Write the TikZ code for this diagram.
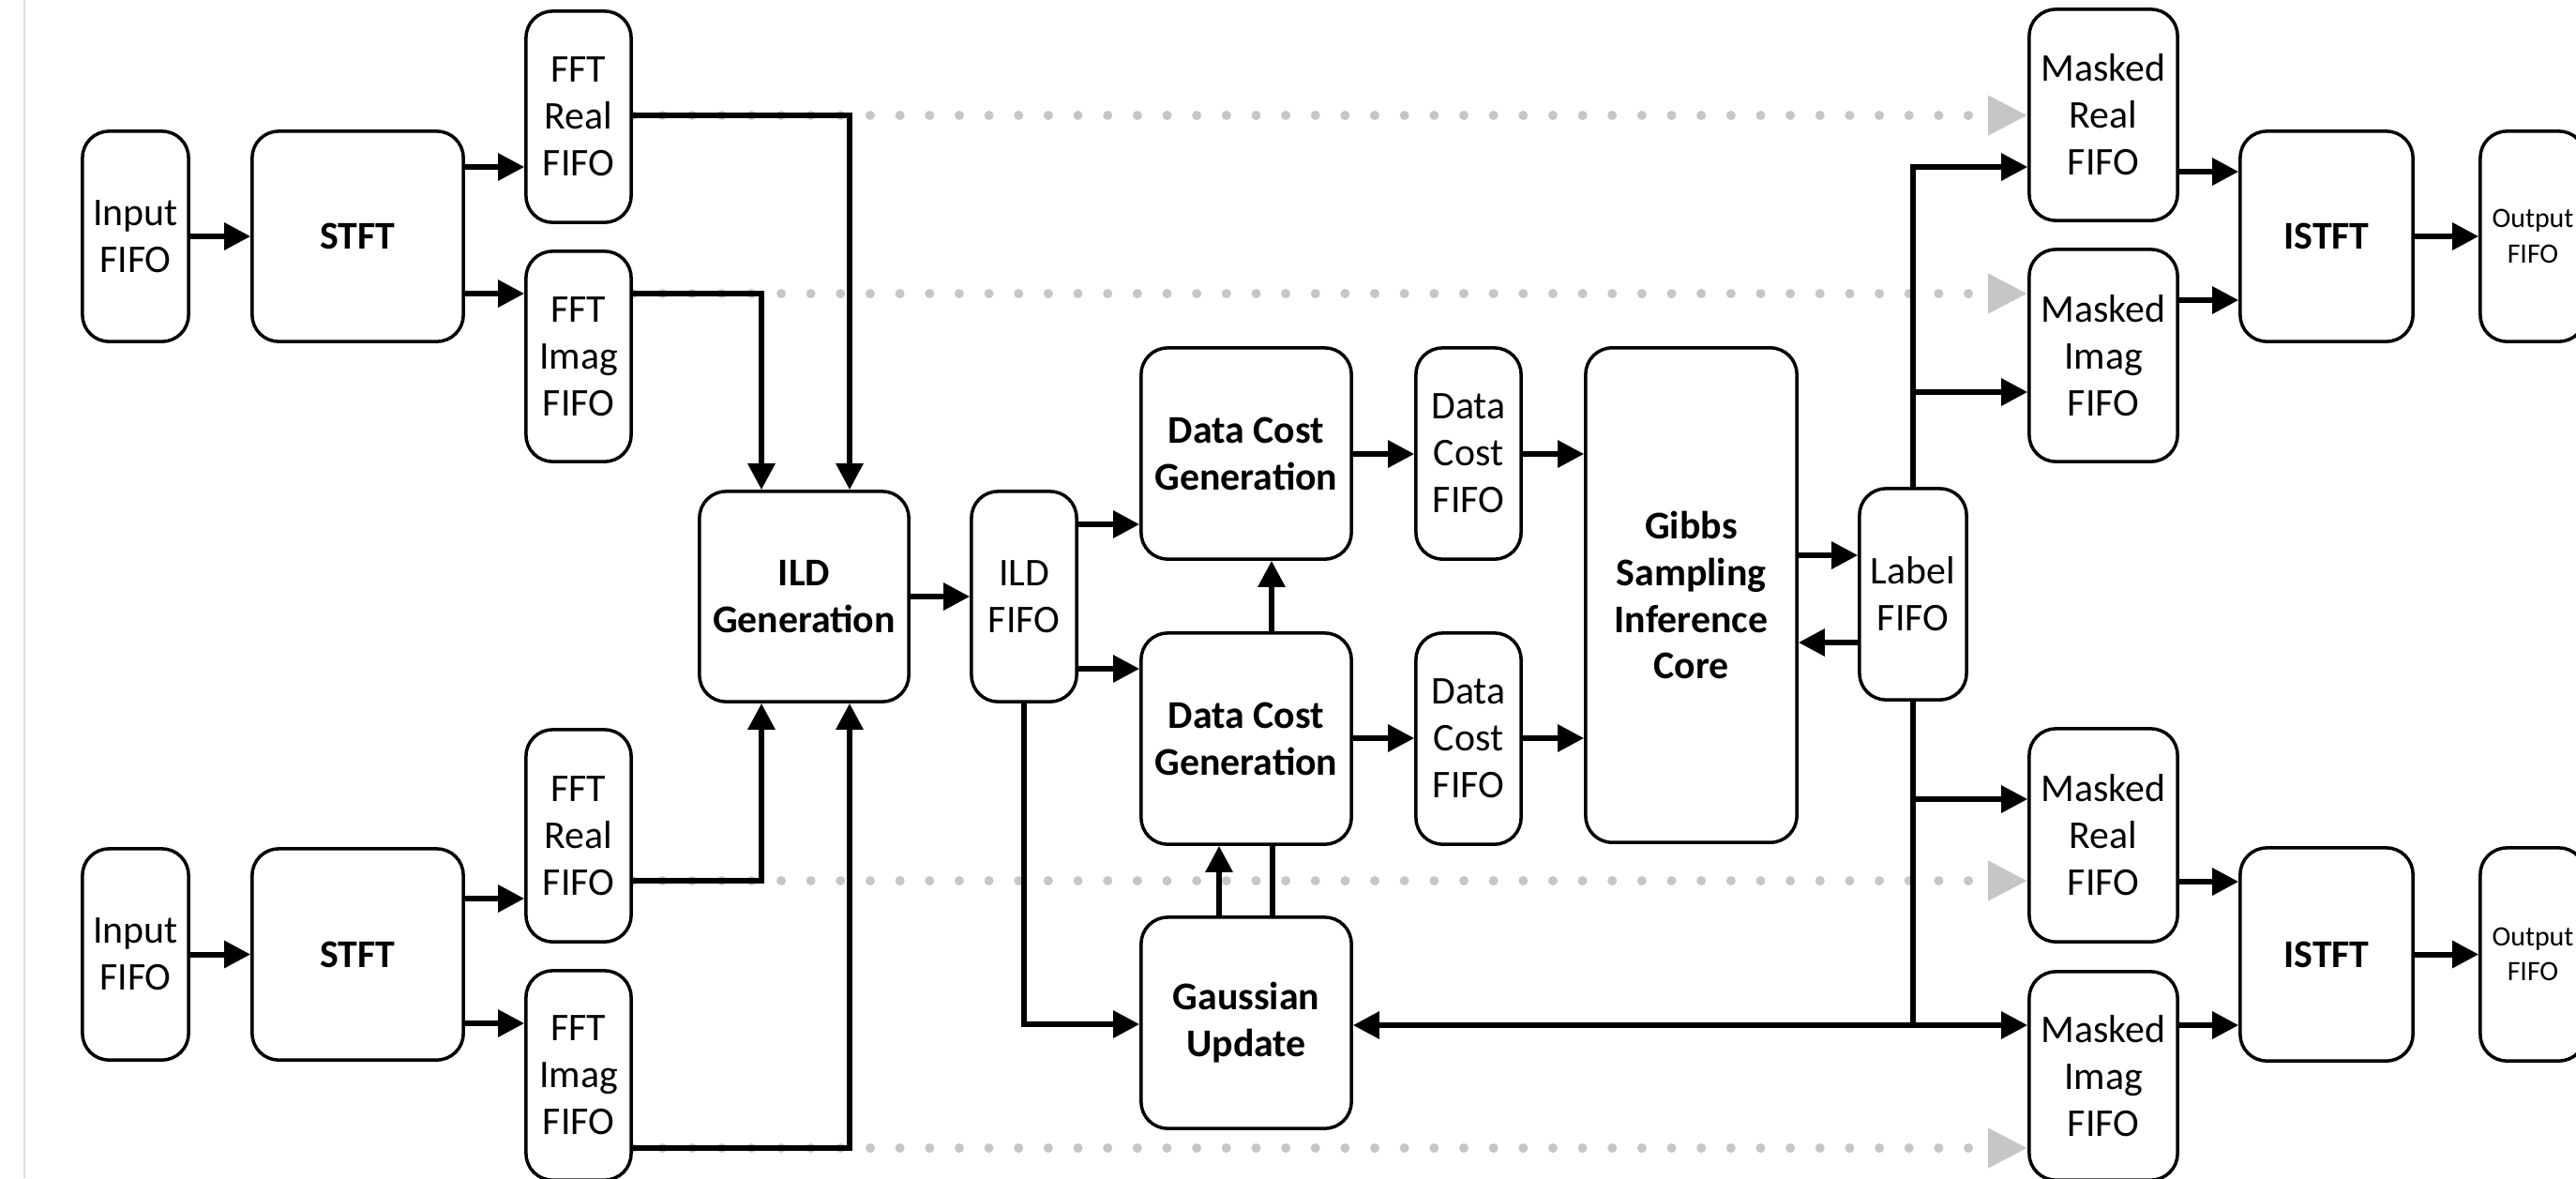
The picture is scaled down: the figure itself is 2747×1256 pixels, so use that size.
\documentclass[tikz,border=0pt]{standalone}
\usepackage{fontspec}
\setmainfont{Carlito}
\usetikzlibrary{arrows.meta}
\pgfdeclarelayer{background}
\pgfsetlayers{background,main}
\definecolor{dotgray}{RGB}{198,198,198}
\definecolor{edgegray}{RGB}{222,222,222}
\tikzset{
  x=0.01cm, y=-0.01cm,
  blk/.style={draw, fill=white, rounded corners=8pt, line width=1pt,
    inner sep=0pt, align=center, font=\fontsize{11.9}{14.2}\selectfont},
  bblk/.style={blk, font=\fontsize{11.9}{14.2}\selectfont\bfseries},
  sblk/.style={blk, font=\fontsize{8.5}{10.6}\selectfont},
  wire/.style={line width=1.7pt},
  conn/.style={wire, -{Triangle[length=8pt,width=8pt]}},
  conntwo/.style={wire, {Triangle[length=8pt,width=8pt]}-{Triangle[length=8pt,width=8pt]}},
  dots/.style={dotgray, line width=2.85pt, line cap=round,
    dash pattern=on 0pt off 9pt, -{Triangle[length=12pt,width=11.4pt]}},
}
\begin{document}
\begin{tikzpicture}
\useasboundingbox (0,0) rectangle (2747,1256);
\clip (0,0) rectangle (2747,1256);
\draw[edgegray, line width=0.7pt] (26,0) -- (26,1256);

% upper input channel
\node[blk, minimum width=1.13cm, minimum height=2.24cm] (in1) at (144.5,252) {Input\\FIFO};
\node[bblk, minimum width=2.25cm, minimum height=2.24cm] (stft1) at (381.5,252) {STFT};
\node[blk, minimum width=1.12cm, minimum height=2.25cm] (fr1) at (617,124.5) {FFT\\Real\\FIFO};
\node[blk, minimum width=1.12cm, minimum height=2.24cm] (fi1) at (617,380) {FFT\\Imag\\FIFO};

% lower input channel
\node[blk, minimum width=1.13cm, minimum height=2.25cm] (in2) at (144.5,1017.5) {Input\\FIFO};
\node[bblk, minimum width=2.25cm, minimum height=2.25cm] (stft2) at (381.5,1017.5) {STFT};
\node[blk, minimum width=1.12cm, minimum height=2.26cm] (fr2) at (617,891) {FFT\\Real\\FIFO};
\node[blk, minimum width=1.12cm, minimum height=2.23cm] (fi2) at (617,1146.5) {FFT\\Imag\\FIFO};

% inference pipeline
\node[bblk, minimum width=2.23cm, minimum height=2.24cm] (ild) at (857.5,636) {ILD\\Generation};
\node[blk, minimum width=1.12cm, minimum height=2.24cm] (ildf) at (1092,636) {ILD\\FIFO};
\node[bblk, minimum width=2.24cm, minimum height=2.25cm] (dcg1) at (1329,483.5) {Data Cost\\Generation};
\node[bblk, minimum width=2.24cm, minimum height=2.25cm] (dcg2) at (1329,787.5) {Data Cost\\Generation};
\node[blk, minimum width=1.12cm, minimum height=2.25cm] (dcf1) at (1566,483.5) {Data\\Cost\\FIFO};
\node[blk, minimum width=1.12cm, minimum height=2.25cm] (dcf2) at (1566,787.5) {Data\\Cost\\FIFO};
\node[bblk, minimum width=2.25cm, minimum height=5.27cm] (gibbs) at (1803.5,634.5) {Gibbs\\Sampling\\Inference\\Core};
\node[blk, minimum width=1.14cm, minimum height=2.25cm] (label) at (2040,633.5) {Label\\FIFO};
\node[bblk, minimum width=2.24cm, minimum height=2.25cm] (gauss) at (1329,1090.5) {Gaussian\\Update};

% upper output channel
\node[blk, minimum width=1.58cm, minimum height=2.25cm] (mr1) at (2243,122.5) {Masked\\Real\\FIFO};
\node[blk, minimum width=1.58cm, minimum height=2.26cm] (mi1) at (2243,379) {Masked\\Imag\\FIFO};
\node[bblk, minimum width=1.84cm, minimum height=2.24cm] (istft1) at (2481,252) {ISTFT};
\node[sblk, minimum width=1.12cm, minimum height=2.24cm] (out1) at (2701,252) {Output\\FIFO};

% lower output channel
\node[blk, minimum width=1.58cm, minimum height=2.27cm] (mr2) at (2243,890.5) {Masked\\Real\\FIFO};
\node[blk, minimum width=1.58cm, minimum height=2.22cm] (mi2) at (2243,1147) {Masked\\Imag\\FIFO};
\node[bblk, minimum width=1.84cm, minimum height=2.27cm] (istft2) at (2481,1017.5) {ISTFT};
\node[sblk, minimum width=1.12cm, minimum height=2.27cm] (out2) at (2701,1017.5) {Output\\FIFO};

% bypass paths from the FFT FIFOs to the masked FIFOs
\begin{pgfonlayer}{background}
\draw[dots] (fr1.east |- 0,123) -- (mr1.west |- 0,123);
\draw[dots] (fi1.east |- 0,313) -- (mi1.west |- 0,313);
\draw[dots] (fr2.east |- 0,939) -- (mr2.west |- 0,939);
\draw[dots] (fi2.east |- 0,1224) -- (mi2.west |- 0,1224);
\end{pgfonlayer}

% front end
\draw[conn] (in1.east) -- (stft1.west);
\draw[conn] (stft1.east |- 0,178) -- (fr1.west |- 0,178);
\draw[conn] (stft1.east |- 0,313) -- (fi1.west |- 0,313);
\draw[conn] (in2.east) -- (stft2.west);
\draw[conn] (stft2.east |- 0,958) -- (fr2.west |- 0,958);
\draw[conn] (stft2.east |- 0,1091) -- (fi2.west |- 0,1091);

% spectra into ILD generation
\draw[conn] (fr1.east |- 0,123) -| (ild.north -| 906,0);
\draw[conn] (fi1.east |- 0,313) -| (ild.north -| 812,0);
\draw[conn] (fr2.east |- 0,939) -| (ild.south -| 812,0);
\draw[conn] (fi2.east |- 0,1224) -| (ild.south -| 906,0);

% ILD and data cost stages
\draw[conn] (ild.east) -- (ildf.west);
\draw[conn] (ildf.east |- 0,559) -- (dcg1.west |- 0,559);
\draw[conn] (ildf.east |- 0,713) -- (dcg2.west |- 0,713);
\draw[conn] (ildf.south) |- (gauss.west |- 0,1092);
\draw[conn] (dcg1.east |- 0,484) -- (dcf1.west |- 0,484);
\draw[conn] (dcf1.east |- 0,484) -- (gibbs.west |- 0,484);
\draw[conn] (dcg2.east |- 0,787) -- (dcf2.west |- 0,787);
\draw[conn] (dcf2.east |- 0,787) -- (gibbs.west |- 0,787);
\draw[conn] (dcg2.north -| 1356,0) -- (dcg1.south -| 1356,0);
\draw[conn] (gauss.north -| 1300,0) -- (dcg2.south -| 1300,0);
\draw[wire] (gauss.north -| 1357,0) -- (dcg2.south -| 1357,0);

% Gibbs core and label FIFO
\draw[conn] (gibbs.east |- 0,592) -- (label.west |- 0,592);
\draw[conn] (label.west |- 0,685) -- (gibbs.east |- 0,685);

% label distribution bus
\draw[conn] (label.north) |- (mr1.west |- 0,178);
\draw[conn] (label.north |- 0,418) -- (mi1.west |- 0,418);
\draw[wire] (label.south) -- (label.south |- 0,1093);
\draw[conn] (label.south |- 0,852) -- (mr2.west |- 0,852);
\draw[conntwo] (gauss.east |- 0,1093) -- (mi2.west |- 0,1093);

% back end
\draw[conn] (mr1.east |- 0,183) -- (istft1.west |- 0,183);
\draw[conn] (mi1.east |- 0,320) -- (istft1.west |- 0,320);
\draw[conn] (istft1.east) -- (out1.west);
\draw[conn] (mr2.east |- 0,940) -- (istft2.west |- 0,940);
\draw[conn] (mi2.east |- 0,1093) -- (istft2.west |- 0,1093);
\draw[conn] (istft2.east) -- (out2.west);
\end{tikzpicture}
\end{document}
